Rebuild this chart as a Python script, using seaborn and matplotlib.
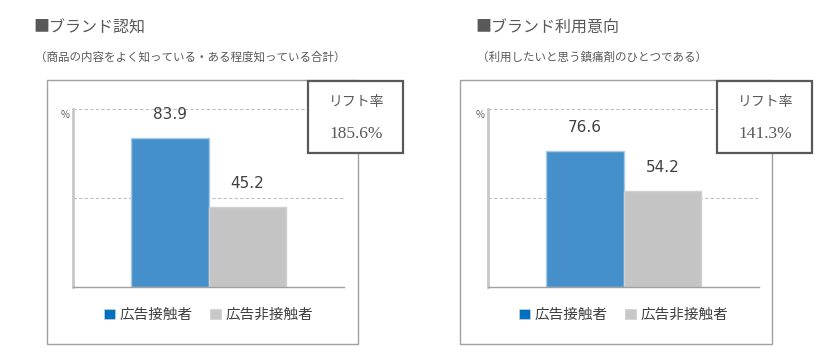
import matplotlib
matplotlib.use("Agg")
import matplotlib.pyplot as plt
from matplotlib.patches import Rectangle, Patch
import pandas as pd
import seaborn as sns

# ---- data ----
titles = ["■ブランド認知", "■ブランド利用意向"]
subtitles = ["（商品の内容をよく知っている・ある程度知っている合計）",
             "（利用したいと思う鎮痛剤のひとつである）"]
groups = ["広告接触者", "広告非接触者"]
exposed = [83.9, 76.6]
non_exposed = [45.2, 54.2]
lift_label = "リフト率"
lift_values = ["185.6%", "141.3%"]

sns.set_theme(style="white")
plt.rcParams['font.family'] = ['Noto Sans CJK JP', 'DejaVu Sans']

W, H = 825, 363
fig = plt.figure(figsize=(W / 100, H / 100), dpi=100)

def fr(x0, y0, x1, y1):
    # pixel box (top-left origin) -> figure fraction rect
    return [x0 / W, 1 - y1 / H, (x1 - x0) / W, (y1 - y0) / H]

# background overlay in pixel coords
bg = fig.add_axes([0, 0, 1, 1], zorder=0)
bg.set_xlim(0, W); bg.set_ylim(H, 0); bg.axis("off")

fg = fig.add_axes([0, 0, 1, 1], zorder=5)
fg.set_xlim(0, W); fg.set_ylim(H, 0); fg.axis("off")
fg.patch.set_alpha(0)

blue = "#4590CA"
gray = "#C4C4C4"
legend_colors = ["#0070C0", "#C8C8C8"]
txt = "#404040"

panels = [
    dict(title_x=33, box=(47, 80, 358, 344), ax=(73, 109, 344, 287),
         lift=(308, 81, 403, 153)),
    dict(title_x=475, box=(460, 80, 772, 344), ax=(488, 109, 759, 287),
         lift=(717, 81, 812, 153)),
]

for i, p in enumerate(panels):
    # titles
    bg.text(p["title_x"], 28, titles[i], fontsize=11.5, color="#595959",
            ha="left", va="center")
    bg.text(p["title_x"] + 2, 57, subtitles[i], fontsize=8.3, color="#595959",
            ha="left", va="center")
    # outer box
    x0, y0, x1, y1 = p["box"]
    bg.add_patch(Rectangle((x0, y0), x1 - x0, y1 - y0, fill=False,
                           edgecolor="#A0A0A0", lw=1.0))

    # chart
    ax = fig.add_axes(fr(*p["ax"]), zorder=2)
    ax.patch.set_alpha(0)
    df = pd.DataFrame({"cat": [""] * 2, "group": groups,
                       "value": [exposed[i], non_exposed[i]]})
    sns.barplot(data=df, x="cat", y="value", hue="group", hue_order=groups,
                palette=[blue, gray], width=0.572, ax=ax, legend=False,
                saturation=1, linewidth=1)
    for bar, col in zip(ax.patches, ["#A9C9E6", "#D0D0D0"]):
        bar.set_edgecolor(col)
    ax.set_xlim(-0.5, 0.5)
    ax.set_ylim(0, 100)
    ax.set_xlabel(""); ax.set_ylabel("")
    ax.set_xticks([]); ax.set_yticks([])
    for yv in (50, 100):
        ax.axhline(yv, color="#BFBFBF", lw=0.8, ls=(0, (3, 2)), zorder=0)
    for s in ("top", "right"):
        ax.spines[s].set_visible(False)
    ax.spines["left"].set_color("#C8C8C8"); ax.spines["left"].set_linewidth(2)
    ax.spines["bottom"].set_color("#A0A0A0"); ax.spines["bottom"].set_linewidth(1)

    for bar in ax.patches:
        h = bar.get_height()
        ax.annotate(f"{h:.1f}", (bar.get_x() + bar.get_width() / 2, h),
                    xytext=(0, 16.5), textcoords="offset points",
                    ha="center", va="center", fontsize=11, color=txt,
                    family=["DejaVu Sans"])
    ax.annotate("%", (0, 1), xycoords="axes fraction", xytext=(-6, -4.5),
                textcoords="offset points", ha="center", va="center",
                fontsize=7, color="#595959")

    handles = [Patch(facecolor=c, edgecolor="#D0D0D0", lw=0.5) for c in legend_colors]
    ax.legend(handles, groups, loc="center", bbox_to_anchor=(0.5, -0.157),
              ncol=2, frameon=False, fontsize=10.5, labelcolor=txt,
              handlelength=0.75, handleheight=0.75, handletextpad=0.3,
              columnspacing=1.2, borderaxespad=0)

    # lift box
    lx0, ly0, lx1, ly1 = p["lift"]
    fg.add_patch(Rectangle((lx0, ly0), lx1 - lx0, ly1 - ly0, facecolor="white",
                           edgecolor="#595959", lw=1.6))
    cx = (lx0 + lx1) / 2 + 1
    fg.text(cx, ly0 + 21, lift_label, fontsize=10, color="#595959",
            ha="center", va="center")
    fg.text(cx, ly0 + 53, lift_values[i], fontsize=12.5, color="#595959",
            ha="center", va="center", family=["Liberation Serif", "DejaVu Serif"])

fig.savefig("out.png", dpi=100, facecolor="white")
